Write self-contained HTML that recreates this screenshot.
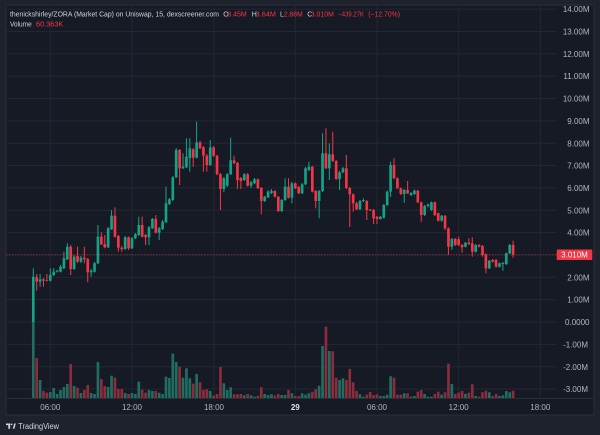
<!DOCTYPE html>
<html><head><meta charset="utf-8"><style>
html,body{margin:0;padding:0;background:#1e222d;}
svg{display:block;font-family:"Liberation Sans",sans-serif;}
</style></head><body>
<svg width="600" height="435" viewBox="0 0 600 435" xmlns="http://www.w3.org/2000/svg">
<rect x="0" y="0" width="600" height="435" fill="#1e222d"/>
<rect x="6" y="5" width="588" height="410" fill="#161a25" stroke="#2a2e39" stroke-width="1"/>
<g stroke="#232733" stroke-width="1">
<line x1="6" x2="557" y1="9.1" y2="9.1"/><line x1="6" x2="557" y1="31.45" y2="31.45"/><line x1="6" x2="557" y1="53.8" y2="53.8"/><line x1="6" x2="557" y1="76.15" y2="76.15"/><line x1="6" x2="557" y1="98.5" y2="98.5"/><line x1="6" x2="557" y1="120.85" y2="120.85"/><line x1="6" x2="557" y1="143.2" y2="143.2"/><line x1="6" x2="557" y1="165.55" y2="165.55"/><line x1="6" x2="557" y1="187.9" y2="187.9"/><line x1="6" x2="557" y1="210.25" y2="210.25"/><line x1="6" x2="557" y1="232.6" y2="232.6"/><line x1="6" x2="557" y1="254.95" y2="254.95"/><line x1="6" x2="557" y1="277.3" y2="277.3"/><line x1="6" x2="557" y1="299.65" y2="299.65"/><line x1="6" x2="557" y1="322" y2="322"/><line x1="6" x2="557" y1="344.35" y2="344.35"/><line x1="6" x2="557" y1="366.7" y2="366.7"/><line x1="6" x2="557" y1="389.05" y2="389.05"/>
<line x1="50.3" x2="50.3" y1="5" y2="398"/><line x1="132" x2="132" y1="5" y2="398"/><line x1="214" x2="214" y1="5" y2="398"/><line x1="295.3" x2="295.3" y1="5" y2="398"/><line x1="377" x2="377" y1="5" y2="398"/><line x1="458.7" x2="458.7" y1="5" y2="398"/><line x1="540.3" x2="540.3" y1="5" y2="398"/>
</g>
<line x1="6" x2="594" y1="398.5" y2="398.5" stroke="#2a2e39" stroke-width="1"/>

<g transform="translate(50.3 0) scale(3.403 1)">
<g fill="#1f6e62">
<rect x="-5.39" y="321.7" width="0.78" height="76.3"/><rect x="-3.39" y="380" width="0.78" height="18"/><rect x="-0.39" y="392" width="0.78" height="6"/><rect x="0.61" y="388" width="0.78" height="10"/><rect x="1.61" y="394" width="0.78" height="4"/><rect x="2.61" y="390" width="0.78" height="8"/><rect x="3.61" y="387" width="0.78" height="11"/><rect x="4.61" y="384" width="0.78" height="14"/><rect x="6.61" y="386" width="0.78" height="12"/><rect x="8.61" y="393" width="0.78" height="5"/><rect x="11.61" y="393" width="0.78" height="5"/><rect x="12.61" y="394" width="0.78" height="4"/><rect x="13.61" y="362" width="0.78" height="36"/><rect x="16.61" y="387" width="0.78" height="11"/><rect x="17.61" y="375.7" width="0.78" height="22.3"/><rect x="21.61" y="393" width="0.78" height="5"/><rect x="23.61" y="393" width="0.78" height="5"/><rect x="24.61" y="394" width="0.78" height="4"/><rect x="25.61" y="381.7" width="0.78" height="16.3"/><rect x="28.61" y="390" width="0.78" height="8"/><rect x="29.61" y="391" width="0.78" height="7"/><rect x="31.61" y="392.7" width="0.78" height="5.3"/><rect x="32.61" y="394" width="0.78" height="4"/><rect x="33.61" y="376.7" width="0.78" height="21.3"/><rect x="34.61" y="378" width="0.78" height="20"/><rect x="35.61" y="353.7" width="0.78" height="44.3"/><rect x="36.61" y="362" width="0.78" height="36"/><rect x="38.61" y="377.7" width="0.78" height="20.3"/><rect x="39.61" y="368.3" width="0.78" height="29.7"/><rect x="40.61" y="378.3" width="0.78" height="19.7"/><rect x="42.61" y="374" width="0.78" height="24"/><rect x="46.61" y="391" width="0.78" height="7"/><rect x="50.61" y="383.3" width="0.78" height="14.7"/><rect x="51.61" y="390" width="0.78" height="8"/><rect x="52.61" y="387.3" width="0.78" height="10.7"/><rect x="56.61" y="395.3" width="0.78" height="2.7"/><rect x="58.61" y="395.3" width="0.78" height="2.7"/><rect x="59.61" y="396.7" width="0.78" height="1.3"/><rect x="62.61" y="394" width="0.78" height="4"/><rect x="63.61" y="395" width="0.78" height="3"/><rect x="64.61" y="394.3" width="0.78" height="3.7"/><rect x="67.61" y="395" width="0.78" height="3"/><rect x="68.61" y="395" width="0.78" height="3"/><rect x="70.61" y="393.3" width="0.78" height="4.7"/><rect x="73.61" y="393.3" width="0.78" height="4.7"/><rect x="74.61" y="394.7" width="0.78" height="3.3"/><rect x="75.61" y="393.3" width="0.78" height="4.7"/><rect x="78.61" y="385.7" width="0.78" height="12.3"/><rect x="79.61" y="346" width="0.78" height="52"/><rect x="81.61" y="351" width="0.78" height="47"/><rect x="84.61" y="380" width="0.78" height="18"/><rect x="85.61" y="378.3" width="0.78" height="19.7"/><rect x="90.61" y="394.3" width="0.78" height="3.7"/><rect x="91.61" y="396.7" width="0.78" height="1.3"/><rect x="96.61" y="396" width="0.78" height="2"/><rect x="97.61" y="396" width="0.78" height="2"/><rect x="98.61" y="394.7" width="0.78" height="3.3"/><rect x="99.61" y="376.3" width="0.78" height="21.7"/><rect x="103.61" y="393.3" width="0.78" height="4.7"/><rect x="105.61" y="396.7" width="0.78" height="1.3"/><rect x="106.61" y="396" width="0.78" height="2"/><rect x="109.61" y="394" width="0.78" height="4"/><rect x="110.61" y="396.7" width="0.78" height="1.3"/><rect x="111.61" y="396.7" width="0.78" height="1.3"/><rect x="114.61" y="394.7" width="0.78" height="3.3"/><rect x="117.61" y="384" width="0.78" height="14"/><rect x="121.61" y="394" width="0.78" height="4"/><rect x="124.61" y="396" width="0.78" height="2"/><rect x="128.61" y="392.3" width="0.78" height="5.7"/><rect x="131.61" y="396" width="0.78" height="2"/><rect x="132.61" y="395.3" width="0.78" height="2.7"/><rect x="133.61" y="391" width="0.78" height="7"/><rect x="134.61" y="392.3" width="0.78" height="5.7"/>
</g>
<g fill="#8b2d3b">
<rect x="-4.39" y="358" width="0.78" height="40"/><rect x="-2.39" y="391" width="0.78" height="7"/><rect x="-1.39" y="392.7" width="0.78" height="5.3"/><rect x="5.61" y="364" width="0.78" height="34"/><rect x="7.61" y="387.7" width="0.78" height="10.3"/><rect x="9.61" y="390" width="0.78" height="8"/><rect x="10.61" y="385" width="0.78" height="13"/><rect x="14.61" y="379" width="0.78" height="19"/><rect x="15.61" y="386" width="0.78" height="12"/><rect x="18.61" y="377.7" width="0.78" height="20.3"/><rect x="19.61" y="389" width="0.78" height="9"/><rect x="20.61" y="389" width="0.78" height="9"/><rect x="22.61" y="394" width="0.78" height="4"/><rect x="26.61" y="389.7" width="0.78" height="8.3"/><rect x="27.61" y="392.7" width="0.78" height="5.3"/><rect x="30.61" y="391" width="0.78" height="7"/><rect x="37.61" y="366.7" width="0.78" height="31.3"/><rect x="41.61" y="383.7" width="0.78" height="14.3"/><rect x="43.61" y="382.3" width="0.78" height="15.7"/><rect x="44.61" y="390" width="0.78" height="8"/><rect x="45.61" y="389.3" width="0.78" height="8.7"/><rect x="47.61" y="395.7" width="0.78" height="2.3"/><rect x="48.61" y="394" width="0.78" height="4"/><rect x="49.61" y="367" width="0.78" height="31"/><rect x="53.61" y="394.3" width="0.78" height="3.7"/><rect x="54.61" y="394.3" width="0.78" height="3.7"/><rect x="55.61" y="394" width="0.78" height="4"/><rect x="57.61" y="394" width="0.78" height="4"/><rect x="60.61" y="395.7" width="0.78" height="2.3"/><rect x="61.61" y="387.3" width="0.78" height="10.7"/><rect x="65.61" y="395.5" width="0.78" height="2.5"/><rect x="66.61" y="394" width="0.78" height="4"/><rect x="69.61" y="390" width="0.78" height="8"/><rect x="71.61" y="396" width="0.78" height="2"/><rect x="72.61" y="396" width="0.78" height="2"/><rect x="76.61" y="391.7" width="0.78" height="6.3"/><rect x="77.61" y="389.3" width="0.78" height="8.7"/><rect x="80.61" y="326.7" width="0.78" height="71.3"/><rect x="82.61" y="351.3" width="0.78" height="46.7"/><rect x="83.61" y="377.7" width="0.78" height="20.3"/><rect x="86.61" y="380" width="0.78" height="18"/><rect x="87.61" y="369" width="0.78" height="29"/><rect x="88.61" y="382.3" width="0.78" height="15.7"/><rect x="89.61" y="391" width="0.78" height="7"/><rect x="92.61" y="394.7" width="0.78" height="3.3"/><rect x="93.61" y="392" width="0.78" height="6"/><rect x="94.61" y="395" width="0.78" height="3"/><rect x="95.61" y="394.3" width="0.78" height="3.7"/><rect x="100.61" y="377.7" width="0.78" height="20.3"/><rect x="101.61" y="394.7" width="0.78" height="3.3"/><rect x="102.61" y="394.7" width="0.78" height="3.3"/><rect x="104.61" y="393.3" width="0.78" height="4.7"/><rect x="107.61" y="391.7" width="0.78" height="6.3"/><rect x="108.61" y="390" width="0.78" height="8"/><rect x="112.61" y="394" width="0.78" height="4"/><rect x="113.61" y="391.7" width="0.78" height="6.3"/><rect x="115.61" y="392.3" width="0.78" height="5.7"/><rect x="116.61" y="363.7" width="0.78" height="34.3"/><rect x="118.61" y="394" width="0.78" height="4"/><rect x="119.61" y="392.7" width="0.78" height="5.3"/><rect x="120.61" y="391" width="0.78" height="7"/><rect x="122.61" y="392.7" width="0.78" height="5.3"/><rect x="123.61" y="384.3" width="0.78" height="13.7"/><rect x="125.61" y="396.7" width="0.78" height="1.3"/><rect x="126.61" y="392.3" width="0.78" height="5.7"/><rect x="127.61" y="390.7" width="0.78" height="7.3"/><rect x="129.61" y="396" width="0.78" height="2"/><rect x="130.61" y="394" width="0.78" height="4"/><rect x="135.61" y="390.7" width="0.78" height="7.3"/>
</g>

<g fill="#14a387">
<rect x="-5.15" y="268.3" width="0.3" height="53.7"/><rect x="-5.39" y="276.7" width="0.78" height="45.3"/>
<rect x="-3.15" y="274" width="0.3" height="12.7"/><rect x="-3.39" y="279.3" width="0.78" height="2.4"/>
<rect x="-0.15" y="268.3" width="0.3" height="13.2"/><rect x="-0.39" y="275" width="0.78" height="5.7"/>
<rect x="0.85" y="268" width="0.3" height="8"/><rect x="0.61" y="271.7" width="0.78" height="3.3"/>
<rect x="1.85" y="270" width="0.3" height="2.5"/><rect x="1.61" y="270.5" width="0.78" height="1.2"/>
<rect x="2.85" y="265" width="0.3" height="7.5"/><rect x="2.61" y="266.7" width="0.78" height="5"/>
<rect x="3.85" y="251.7" width="0.3" height="17.3"/><rect x="3.61" y="258.3" width="0.78" height="10"/>
<rect x="4.85" y="243.3" width="0.3" height="16.7"/><rect x="4.61" y="246.7" width="0.78" height="12.6"/>
<rect x="6.85" y="255" width="0.3" height="15"/><rect x="6.61" y="256.7" width="0.78" height="12.3"/>
<rect x="8.85" y="256" width="0.3" height="7"/><rect x="8.61" y="257.7" width="0.78" height="4"/>
<rect x="11.85" y="269" width="0.3" height="7.7"/><rect x="11.61" y="270.7" width="0.78" height="1.6"/>
<rect x="12.85" y="262" width="0.3" height="10.5"/><rect x="12.61" y="263.3" width="0.78" height="8.4"/>
<rect x="13.85" y="225" width="0.3" height="39"/><rect x="13.61" y="236.7" width="0.78" height="26.6"/>
<rect x="16.85" y="227" width="0.3" height="21"/><rect x="16.61" y="228.3" width="0.78" height="19"/>
<rect x="17.85" y="210" width="0.3" height="20"/><rect x="17.61" y="215.7" width="0.78" height="13.6"/>
<rect x="21.85" y="236" width="0.3" height="14"/><rect x="21.61" y="237.3" width="0.78" height="11.7"/>
<rect x="23.85" y="237" width="0.3" height="12"/><rect x="23.61" y="238.3" width="0.78" height="10"/>
<rect x="24.85" y="233" width="0.3" height="6"/><rect x="24.61" y="234.3" width="0.78" height="4"/>
<rect x="25.85" y="216.7" width="0.3" height="19.3"/><rect x="25.61" y="225" width="0.78" height="10"/>
<rect x="28.85" y="226" width="0.3" height="19"/><rect x="28.61" y="227.3" width="0.78" height="10"/>
<rect x="29.85" y="218" width="0.3" height="11"/><rect x="29.61" y="219" width="0.78" height="9.3"/>
<rect x="31.85" y="227" width="0.3" height="13"/><rect x="31.61" y="228.3" width="0.78" height="4.4"/>
<rect x="32.85" y="220" width="0.3" height="10"/><rect x="32.61" y="221.7" width="0.78" height="7.3"/>
<rect x="33.85" y="186.7" width="0.3" height="36.3"/><rect x="33.61" y="203.3" width="0.78" height="19"/>
<rect x="34.85" y="198" width="0.3" height="7"/><rect x="34.61" y="199.3" width="0.78" height="4.7"/>
<rect x="35.85" y="176" width="0.3" height="25"/><rect x="35.61" y="177.3" width="0.78" height="22.7"/>
<rect x="36.85" y="148" width="0.3" height="30"/><rect x="36.61" y="150" width="0.78" height="27.3"/>
<rect x="38.85" y="153.3" width="0.3" height="15.7"/><rect x="38.61" y="166.7" width="0.78" height="1.6"/>
<rect x="39.85" y="138.3" width="0.3" height="29.7"/><rect x="39.61" y="156.7" width="0.78" height="10.6"/>
<rect x="40.85" y="138.3" width="0.3" height="33.4"/><rect x="40.61" y="148.3" width="0.78" height="9.7"/>
<rect x="42.85" y="121.7" width="0.3" height="36.8"/><rect x="42.61" y="142.3" width="0.78" height="15.4"/>
<rect x="46.85" y="140" width="0.3" height="26"/><rect x="46.61" y="147.3" width="0.78" height="17.7"/>
<rect x="50.85" y="177" width="0.3" height="15.3"/><rect x="50.61" y="178.3" width="0.78" height="10.7"/>
<rect x="51.85" y="173" width="0.3" height="14"/><rect x="51.61" y="174.3" width="0.78" height="11.4"/>
<rect x="52.85" y="137.7" width="0.3" height="37.3"/><rect x="52.61" y="160.3" width="0.78" height="14"/>
<rect x="56.85" y="173" width="0.3" height="8"/><rect x="56.61" y="174.3" width="0.78" height="5.7"/>
<rect x="58.85" y="181" width="0.3" height="7"/><rect x="58.61" y="182.3" width="0.78" height="3.4"/>
<rect x="59.85" y="178" width="0.3" height="6"/><rect x="59.61" y="179.3" width="0.78" height="4"/>
<rect x="62.85" y="196" width="0.3" height="6"/><rect x="62.61" y="196.7" width="0.78" height="4.3"/>
<rect x="63.85" y="190" width="0.3" height="8"/><rect x="63.61" y="191.7" width="0.78" height="5.6"/>
<rect x="64.85" y="189" width="0.3" height="5"/><rect x="64.61" y="191" width="0.78" height="2"/>
<rect x="67.85" y="199" width="0.3" height="13"/><rect x="67.61" y="200" width="0.78" height="11"/>
<rect x="68.85" y="178.3" width="0.3" height="22.7"/><rect x="68.61" y="186.7" width="0.78" height="13.3"/>
<rect x="70.85" y="182" width="0.3" height="21.3"/><rect x="70.61" y="183.3" width="0.78" height="14.4"/>
<rect x="73.85" y="183" width="0.3" height="11"/><rect x="73.61" y="184.3" width="0.78" height="9"/>
<rect x="74.85" y="167" width="0.3" height="18"/><rect x="74.61" y="168.3" width="0.78" height="16"/>
<rect x="75.85" y="161.7" width="0.3" height="9.3"/><rect x="75.61" y="166.7" width="0.78" height="3.3"/>
<rect x="78.85" y="190" width="0.3" height="28.3"/><rect x="78.61" y="191" width="0.78" height="10"/>
<rect x="79.85" y="133.3" width="0.3" height="58.7"/><rect x="79.61" y="153.3" width="0.78" height="37.7"/>
<rect x="81.85" y="143.3" width="0.3" height="36.7"/><rect x="81.61" y="154.3" width="0.78" height="14"/>
<rect x="84.85" y="171" width="0.3" height="19"/><rect x="84.61" y="172.3" width="0.78" height="6.7"/>
<rect x="85.85" y="167" width="0.3" height="6"/><rect x="85.61" y="168.3" width="0.78" height="4"/>
<rect x="90.85" y="200" width="0.3" height="10"/><rect x="90.61" y="201" width="0.78" height="8.3"/>
<rect x="91.85" y="198.3" width="0.3" height="3.7"/><rect x="91.61" y="200" width="0.78" height="1"/>
<rect x="96.85" y="216" width="0.3" height="3.5"/><rect x="96.61" y="216.7" width="0.78" height="2.3"/>
<rect x="97.85" y="204" width="0.3" height="14.5"/><rect x="97.61" y="205" width="0.78" height="12.7"/>
<rect x="98.85" y="190.5" width="0.3" height="15.5"/><rect x="98.61" y="191.7" width="0.78" height="13.3"/>
<rect x="99.85" y="161.7" width="0.3" height="35.3"/><rect x="99.61" y="165" width="0.78" height="26.7"/>
<rect x="103.85" y="189" width="0.3" height="13.7"/><rect x="103.61" y="190" width="0.78" height="4"/>
<rect x="105.85" y="192" width="0.3" height="4"/><rect x="105.61" y="193" width="0.78" height="2"/>
<rect x="106.85" y="189.5" width="0.3" height="5.5"/><rect x="106.61" y="190.7" width="0.78" height="3.3"/>
<rect x="109.85" y="205" width="0.3" height="11"/><rect x="109.61" y="206" width="0.78" height="9"/>
<rect x="110.85" y="203.5" width="0.3" height="4"/><rect x="110.61" y="204.5" width="0.78" height="1.5"/>
<rect x="111.85" y="201.5" width="0.3" height="9.5"/><rect x="111.61" y="202.3" width="0.78" height="7.7"/>
<rect x="114.85" y="215" width="0.3" height="6.5"/><rect x="114.61" y="215.7" width="0.78" height="5"/>
<rect x="117.85" y="238" width="0.3" height="12"/><rect x="117.61" y="239" width="0.78" height="7.7"/>
<rect x="121.85" y="242" width="0.3" height="5.5"/><rect x="121.61" y="242.7" width="0.78" height="4"/>
<rect x="124.85" y="244" width="0.3" height="8.5"/><rect x="124.61" y="245" width="0.78" height="6.7"/>
<rect x="128.85" y="260" width="0.3" height="9"/><rect x="128.61" y="260.7" width="0.78" height="7.6"/>
<rect x="131.85" y="262.5" width="0.3" height="5"/><rect x="131.61" y="263.3" width="0.78" height="3.4"/>
<rect x="132.85" y="262" width="0.3" height="8.7"/><rect x="132.61" y="263" width="0.78" height="1"/>
<rect x="133.85" y="252.5" width="0.3" height="12.5"/><rect x="133.61" y="253.3" width="0.78" height="10.7"/>
<rect x="134.85" y="244" width="0.3" height="10"/><rect x="134.61" y="245" width="0.78" height="8.3"/>
</g>

<g fill="#f23645">
<rect x="-4.15" y="274" width="0.3" height="16.7"/><rect x="-4.39" y="277.3" width="0.78" height="4.4"/>
<rect x="-2.15" y="278" width="0.3" height="8.7"/><rect x="-2.39" y="279.3" width="0.78" height="1.4"/>
<rect x="-1.15" y="274" width="0.3" height="7.5"/><rect x="-1.39" y="280" width="0.78" height="0.7"/>
<rect x="5.85" y="245" width="0.3" height="30"/><rect x="5.61" y="246.7" width="0.78" height="22.3"/>
<rect x="7.85" y="246.7" width="0.3" height="16.3"/><rect x="7.61" y="256" width="0.78" height="5.7"/>
<rect x="9.85" y="246.7" width="0.3" height="16.6"/><rect x="9.61" y="257.7" width="0.78" height="1.6"/>
<rect x="10.85" y="258" width="0.3" height="24.3"/><rect x="10.61" y="259" width="0.78" height="13.3"/>
<rect x="14.85" y="232.3" width="0.3" height="12.7"/><rect x="14.61" y="236.7" width="0.78" height="7.6"/>
<rect x="15.85" y="235" width="0.3" height="13.3"/><rect x="15.61" y="244" width="0.78" height="3.3"/>
<rect x="18.85" y="207.3" width="0.3" height="30.2"/><rect x="18.61" y="215.7" width="0.78" height="21"/>
<rect x="19.85" y="235" width="0.3" height="16.7"/><rect x="19.61" y="236" width="0.78" height="11.7"/>
<rect x="20.85" y="246" width="0.3" height="5.7"/><rect x="20.61" y="247.7" width="0.78" height="1.3"/>
<rect x="22.85" y="236.5" width="0.3" height="13.5"/><rect x="22.61" y="237.3" width="0.78" height="11"/>
<rect x="26.85" y="216.7" width="0.3" height="20.8"/><rect x="26.61" y="225" width="0.78" height="11.7"/>
<rect x="27.85" y="234" width="0.3" height="11"/><rect x="27.61" y="235" width="0.78" height="2.3"/>
<rect x="30.85" y="215" width="0.3" height="18.5"/><rect x="30.61" y="219" width="0.78" height="13.7"/>
<rect x="37.85" y="149" width="0.3" height="36"/><rect x="37.61" y="150" width="0.78" height="18.3"/>
<rect x="41.85" y="148" width="0.3" height="18.7"/><rect x="41.61" y="149.3" width="0.78" height="8.4"/>
<rect x="43.85" y="141" width="0.3" height="8"/><rect x="43.61" y="142.3" width="0.78" height="6"/>
<rect x="44.85" y="146" width="0.3" height="25.7"/><rect x="44.61" y="147.3" width="0.78" height="8.4"/>
<rect x="45.85" y="154" width="0.3" height="17.7"/><rect x="45.61" y="155.7" width="0.78" height="9.3"/>
<rect x="47.85" y="146" width="0.3" height="11"/><rect x="47.61" y="147.3" width="0.78" height="8.4"/>
<rect x="48.85" y="155" width="0.3" height="20"/><rect x="48.61" y="155.7" width="0.78" height="18.6"/>
<rect x="49.85" y="173" width="0.3" height="37"/><rect x="49.61" y="174.3" width="0.78" height="14.7"/>
<rect x="53.85" y="155.7" width="0.3" height="8.3"/><rect x="53.61" y="160.3" width="0.78" height="3"/>
<rect x="54.85" y="162" width="0.3" height="27"/><rect x="54.61" y="163" width="0.78" height="17"/>
<rect x="55.85" y="177" width="0.3" height="12"/><rect x="55.61" y="178" width="0.78" height="3"/>
<rect x="57.85" y="173" width="0.3" height="13.5"/><rect x="57.61" y="174.3" width="0.78" height="11.4"/>
<rect x="60.85" y="178.5" width="0.3" height="10.5"/><rect x="60.61" y="179.3" width="0.78" height="9"/>
<rect x="61.85" y="187" width="0.3" height="27.3"/><rect x="61.61" y="188" width="0.78" height="13"/>
<rect x="65.85" y="190" width="0.3" height="7.5"/><rect x="65.61" y="191" width="0.78" height="5.7"/>
<rect x="66.85" y="196" width="0.3" height="16"/><rect x="66.61" y="196.7" width="0.78" height="14.3"/>
<rect x="69.85" y="178.3" width="0.3" height="20.2"/><rect x="69.61" y="186.7" width="0.78" height="11"/>
<rect x="71.85" y="182.5" width="0.3" height="6.5"/><rect x="71.61" y="183.3" width="0.78" height="5"/>
<rect x="72.85" y="186" width="0.3" height="8"/><rect x="72.61" y="187" width="0.78" height="6.3"/>
<rect x="76.85" y="166" width="0.3" height="26.5"/><rect x="76.61" y="166.7" width="0.78" height="25"/>
<rect x="77.85" y="190" width="0.3" height="18.3"/><rect x="77.61" y="191" width="0.78" height="10"/>
<rect x="80.85" y="128.3" width="0.3" height="40.7"/><rect x="80.61" y="153.3" width="0.78" height="15"/>
<rect x="82.85" y="131.7" width="0.3" height="30.3"/><rect x="82.61" y="154.3" width="0.78" height="6.7"/>
<rect x="83.85" y="160" width="0.3" height="20"/><rect x="83.61" y="161" width="0.78" height="18"/>
<rect x="86.85" y="155" width="0.3" height="34"/><rect x="86.61" y="168.3" width="0.78" height="19.7"/>
<rect x="87.85" y="187" width="0.3" height="40"/><rect x="87.61" y="188" width="0.78" height="6.3"/>
<rect x="88.85" y="193.5" width="0.3" height="18.2"/><rect x="88.61" y="194.3" width="0.78" height="9"/>
<rect x="89.85" y="202" width="0.3" height="8"/><rect x="89.61" y="203.3" width="0.78" height="6"/>
<rect x="92.85" y="200" width="0.3" height="20"/><rect x="92.61" y="201" width="0.78" height="9"/>
<rect x="93.85" y="209" width="0.3" height="2"/><rect x="93.61" y="209.5" width="0.78" height="1"/>
<rect x="94.85" y="209" width="0.3" height="15"/><rect x="94.61" y="210" width="0.78" height="8.3"/>
<rect x="95.85" y="216" width="0.3" height="8"/><rect x="95.61" y="216.7" width="0.78" height="2.3"/>
<rect x="100.85" y="158.3" width="0.3" height="20.7"/><rect x="100.61" y="165" width="0.78" height="13.3"/>
<rect x="101.85" y="177.5" width="0.3" height="11.5"/><rect x="101.61" y="178.3" width="0.78" height="10"/>
<rect x="102.85" y="187.5" width="0.3" height="7.5"/><rect x="102.61" y="188.3" width="0.78" height="5.7"/>
<rect x="104.85" y="181" width="0.3" height="13"/><rect x="104.61" y="190" width="0.78" height="3.3"/>
<rect x="107.85" y="190" width="0.3" height="13"/><rect x="107.61" y="190.7" width="0.78" height="11.6"/>
<rect x="108.85" y="201.5" width="0.3" height="20.2"/><rect x="108.61" y="202.3" width="0.78" height="12.7"/>
<rect x="112.85" y="201.5" width="0.3" height="14.5"/><rect x="112.61" y="202.3" width="0.78" height="12.7"/>
<rect x="113.85" y="212.5" width="0.3" height="9"/><rect x="113.61" y="213.3" width="0.78" height="7.4"/>
<rect x="115.85" y="215" width="0.3" height="15"/><rect x="115.61" y="215.7" width="0.78" height="12.6"/>
<rect x="116.85" y="227.5" width="0.3" height="27.5"/><rect x="116.61" y="228.3" width="0.78" height="18.4"/>
<rect x="118.85" y="238" width="0.3" height="8"/><rect x="118.61" y="239" width="0.78" height="6"/>
<rect x="119.85" y="236.7" width="0.3" height="9.3"/><rect x="119.61" y="239.3" width="0.78" height="5.7"/>
<rect x="120.85" y="244" width="0.3" height="8.7"/><rect x="120.61" y="245" width="0.78" height="2.3"/>
<rect x="122.85" y="238.3" width="0.3" height="6.7"/><rect x="122.61" y="242.7" width="0.78" height="1.3"/>
<rect x="123.85" y="237.3" width="0.3" height="19.4"/><rect x="123.61" y="243.3" width="0.78" height="8.4"/>
<rect x="125.85" y="244" width="0.3" height="3.5"/><rect x="125.61" y="245" width="0.78" height="1.7"/>
<rect x="126.85" y="245" width="0.3" height="11.7"/><rect x="126.61" y="246" width="0.78" height="9"/>
<rect x="127.85" y="253.5" width="0.3" height="19.8"/><rect x="127.61" y="254.3" width="0.78" height="14"/>
<rect x="129.85" y="259" width="0.3" height="3.5"/><rect x="129.61" y="260" width="0.78" height="1.7"/>
<rect x="130.85" y="259" width="0.3" height="8.7"/><rect x="130.61" y="260" width="0.78" height="6.7"/>
<rect x="135.85" y="240.6" width="0.3" height="17"/><rect x="135.61" y="244.9" width="0.78" height="9.8"/>
</g>
</g>

<line x1="6" x2="557" y1="254.7" y2="254.7" stroke="#f23645" stroke-opacity="0.45" stroke-width="1" stroke-dasharray="1.5 1.5"/>

<g font-size="8" fill="#b2b5be" text-anchor="end">
<text x="589.5" y="12.2">14.00M</text><text x="589.5" y="34.5">13.00M</text><text x="589.5" y="56.9">12.00M</text><text x="589.5" y="79.2">11.00M</text><text x="589.5" y="101.6">10.00M</text><text x="589.5" y="123.9">9.00M</text><text x="589.5" y="146.3">8.00M</text><text x="589.5" y="168.6">7.00M</text><text x="589.5" y="191">6.00M</text><text x="589.5" y="213.3">5.00M</text><text x="589.5" y="235.7">4.00M</text><text x="589.5" y="280.4">2.00M</text><text x="589.5" y="302.7">1.00M</text><text x="589.5" y="325.1">0.0000</text><text x="588" y="347.4">-1.00M</text><text x="588" y="369.8">-2.00M</text><text x="588" y="392.1">-3.00M</text>
</g>
<rect x="556.7" y="249.5" width="35.6" height="10.5" rx="1" fill="#f23645"/>
<text x="574.5" y="257.7" font-size="8" fill="#ffffff" text-anchor="middle">3.010M</text>

<g font-size="8" fill="#b2b5be" text-anchor="middle">
<text x="50.3" y="410.2">06:00</text><text x="132" y="410.2">12:00</text><text x="214" y="410.2">18:00</text><text x="295.3" y="410.2" fill="#e0e3eb" font-weight="bold">29</text><text x="377" y="410.2">06:00</text><text x="458.7" y="410.2">12:00</text><text x="540.3" y="410.2">18:00</text>
</g>

<g font-size="7">
<text x="10" y="16.7" fill="#d1d4dc" textLength="209" lengthAdjust="spacingAndGlyphs">thenickshirley/ZORA (Market Cap) on Uniswap, 15, dexscreener.com</text>
<text x="223.3" y="16.7" fill="#d1d4dc">O</text><text x="227.3" y="16.7" fill="#f23645" textLength="19.4" lengthAdjust="spacingAndGlyphs">3.45M</text>
<text x="251.7" y="16.7" fill="#d1d4dc">H</text><text x="255.7" y="16.7" fill="#f23645" textLength="20.3" lengthAdjust="spacingAndGlyphs">3.64M</text>
<text x="280" y="16.7" fill="#d1d4dc">L</text><text x="283.7" y="16.7" fill="#f23645" textLength="19" lengthAdjust="spacingAndGlyphs">2.88M</text>
<text x="307.3" y="16.7" fill="#d1d4dc">C</text><text x="310.7" y="16.7" fill="#f23645" textLength="23.3" lengthAdjust="spacingAndGlyphs">3.010M</text>
<text x="338.3" y="16.7" fill="#f23645" textLength="25.7" lengthAdjust="spacingAndGlyphs">−439.27K</text>
<text x="368.3" y="16.7" fill="#f23645" textLength="31.7" lengthAdjust="spacingAndGlyphs">(−12.70%)</text>
<text x="10" y="26.5" fill="#d1d4dc" textLength="21.7" lengthAdjust="spacingAndGlyphs">Volume</text>
<text x="36" y="26.5" fill="#f23645" textLength="27.3" lengthAdjust="spacingAndGlyphs">60.363K</text>
</g>

<g fill="#d1d4dc">
<rect x="6" y="423.5" width="4.2" height="1.6"/><rect x="8.3" y="423.5" width="1.8" height="5.3"/>
<circle cx="11.6" cy="424.4" r="0.9"/>
<polygon points="12.8,428.8 14.2,423.5 15.8,423.5 14.4,428.8"/>
<text x="18.3" y="428.8" font-size="8" textLength="40.7" lengthAdjust="spacingAndGlyphs">TradingView</text>
</g>
</svg>
</body></html>
